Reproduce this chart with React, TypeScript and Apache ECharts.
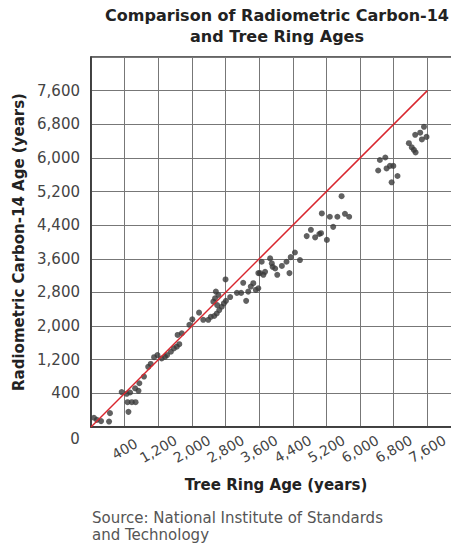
import React, { useEffect, useRef } from "react";
import * as echarts from "echarts";

const treeRingAges = [
  -330, -260, -160, 30, 50, 490, 470, 570, 660, 330, 450, 530, 650, 730, 750, 860,
  960, 1020, 1100, 1180, 1280, 1360, 1410, 1500, 1570, 1640, 1700, 1660, 1760, 1940,
  2010, 2170, 2270, 2390, 2450, 2530, 2590, 2650, 2710, 2760, 2600, 2550, 2570, 2630,
  2510, 2800, 2910, 2810, 3070, 3170, 3220, 3290, 3340, 3400, 3460, 3520, 3580, 3580,
  3660, 3620, 3700, 3740, 3860, 3900, 3920, 3980, 4030, 4140, 4250, 4320, 4350, 4450,
  4570, 5210, 4730, 4830, 4930, 5030, 5070, 5090, 5280, 5360, 5460, 5560, 5640, 5740,
  6430, 6470, 6600, 6630, 6710, 6790, 6750, 6890, 7160, 7230, 7280, 7320, 7310, 7430,
  7470, 7520, 7580,
];
const carbon14Ages = [
  -180, -230, -260, -270, -70, -40, 190, 190, 190, 430, 390, 420, 520, 460, 640, 800,
  1030, 1100, 1260, 1310, 1230, 1270, 1310, 1390, 1470, 1510, 1570, 1790, 1830, 2030,
  2160, 2320, 2150, 2150, 2220, 2240, 2300, 2380, 2460, 2540, 2500, 2660, 2820, 2740,
  2580, 3110, 2690, 2600, 2790, 2790, 3030, 2600, 2820, 2940, 3020, 2860, 2900, 3260,
  3530, 3260, 3220, 3290, 3610, 3490, 3410, 3370, 3220, 3430, 3530, 3260, 3640, 3750,
  3570, 4050, 4140, 4290, 4110, 4190, 4210, 4680, 4600, 4360, 4600, 5090, 4670, 4600,
  5700, 5950, 6010, 5750, 5810, 5810, 5420, 5570, 6350, 6250, 6190, 6130, 6550, 6600,
  6440, 6740, 6500,
];
const equalAgeLine = [
  [-400, -400],
  [7600, 7600],
];
const axisMin = -400;
const axisMax = 8400;
const axisStep = 800;
const hiddenTicks = [-400, 8400];

const fmt = (v: number) =>
  hiddenTicks.includes(v) ? "" : v.toLocaleString("en-US");

export default function App() {
  const ref = useRef<HTMLDivElement>(null);
  useEffect(() => {
    if (!ref.current) return;
    const chart = echarts.init(ref.current, null, { renderer: "svg" });
    const font = "DejaVu Sans, Verdana, sans-serif";
    chart.setOption({
      animation: false,
      textStyle: { fontFamily: font },
      grid: {
        left: 91,
        top: 57,
        width: 370,
        height: 370,
        show: true,
        borderColor: "#333",
        borderWidth: 1.5,
        containLabel: false,
      },
      xAxis: {
        type: "value",
        min: axisMin,
        max: axisMax,
        interval: axisStep,
        name: "Tree Ring Age (years)",
        nameLocation: "middle",
        nameGap: 50,
        nameTextStyle: { fontFamily: font, fontSize: 15, fontWeight: "bold", color: "#222" },
        axisLine: { show: true, onZero: false, lineStyle: { color: "#333", width: 1.5 } },
        axisTick: { show: false },
        splitLine: { show: true, lineStyle: { color: "#777", width: 1 } },
        axisLabel: {
          formatter: fmt,
          rotate: 30,
          align: "center",
          verticalAlign: "middle",
          margin: 22,
          fontFamily: font,
          fontSize: 14,
          color: "#444",
        },
      },
      yAxis: {
        type: "value",
        min: axisMin,
        max: axisMax,
        interval: axisStep,
        name: "Radiometric Carbon-14 Age (years)",
        nameLocation: "middle",
        nameGap: 62,
        nameTextStyle: { fontFamily: font, fontSize: 15, fontWeight: "bold", color: "#222" },
        axisLine: { show: true, onZero: false, lineStyle: { color: "#333", width: 1.5 } },
        axisTick: { show: false },
        splitLine: { show: true, lineStyle: { color: "#777", width: 1 } },
        axisLabel: {
          formatter: fmt,
          margin: 11,
          fontFamily: font,
          fontSize: 15,
          color: "#444",
        },
      },
      graphic: [
        {
          type: "text",
          x: 277,
          y: 15,
          style: {
            text: "Comparison of Radiometric Carbon-14",
            fontFamily: font,
            fontSize: 16,
            fontWeight: "bold",
            fill: "#222",
            textAlign: "center",
            textVerticalAlign: "middle",
          },
        },
        {
          type: "text",
          x: 277,
          y: 36,
          style: {
            text: "and Tree Ring Ages",
            fontFamily: font,
            fontSize: 16,
            fontWeight: "bold",
            fill: "#222",
            textAlign: "center",
            textVerticalAlign: "middle",
          },
        },
        {
          type: "text",
          x: 75,
          y: 439,
          style: {
            text: "0",
            fontFamily: font,
            fontSize: 15,
            fill: "#444",
            textAlign: "center",
            textVerticalAlign: "middle",
          },
        },
        {
          type: "text",
          x: 92,
          y: 518,
          style: {
            text: "Source: National Institute of Standards",
            fontFamily: font,
            fontSize: 15,
            fill: "#555",
            textAlign: "left",
            textVerticalAlign: "middle",
          },
        },
        {
          type: "text",
          x: 92,
          y: 535,
          style: {
            text: "and Technology",
            fontFamily: font,
            fontSize: 15,
            fill: "#555",
            textAlign: "left",
            textVerticalAlign: "middle",
          },
        },
      ],
      series: [
        {
          type: "scatter",
          data: treeRingAges.map((x, i) => [x, carbon14Ages[i]]),
          symbolSize: 6,
          itemStyle: { color: "#3a3a3a" },
          z: 2,
        },
        {
          type: "line",
          data: equalAgeLine,
          symbol: "none",
          lineStyle: { color: "#d9262e", width: 1.5 },
          z: 3,
        },
      ],
    });
    return () => chart.dispose();
  }, []);
  return (
    <div
      style={{
        position: "fixed",
        left: 0,
        top: 0,
        width: 451,
        height: 544,
        overflow: "hidden",
        background: "#fff",
      }}
    >
      <div ref={ref} style={{ width: 470, height: 544 }} />
    </div>
  );
}
